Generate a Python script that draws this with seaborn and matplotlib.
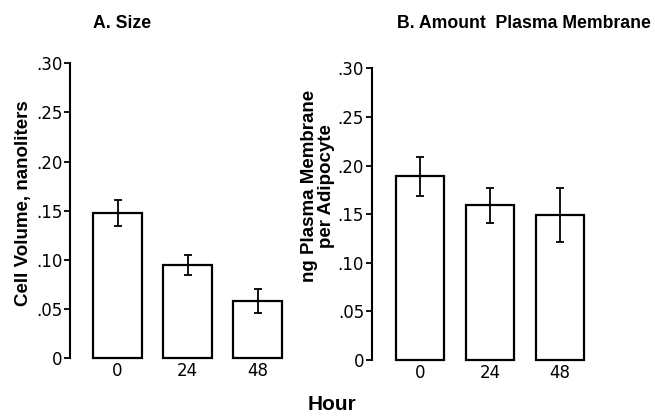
import matplotlib
matplotlib.use("Agg")
import matplotlib.pyplot as plt
import seaborn as sns
import pandas as pd
import numpy as np

hours = ["0", "24", "48"]
size_vals = [0.148, 0.095, 0.058]
size_err = [0.013, 0.010, 0.012]
pm_vals = [0.189, 0.159, 0.149]
pm_err = [0.020, 0.018, 0.028]
yticks = [0, 0.05, 0.10, 0.15, 0.20, 0.25, 0.30]
ytick_labels = ["0", ".05", ".10", ".15", ".20", ".25", ".30"]

sns.set_style("ticks")
plt.rcParams['font.family'] = ['DejaVu Sans']
for k in ["text.color", "axes.labelcolor", "xtick.color", "ytick.color", "axes.edgecolor"]:
    plt.rcParams[k] = "black"

W, H = 655, 416
fig = plt.figure(figsize=(W / 100, H / 100), dpi=100)

def px_axes(left, right, top, bottom):
    return fig.add_axes([left / W, 1 - bottom / H, (right - left) / W, (bottom - top) / H])

axA = px_axes(70, 299.5, 63.3, 358.3)
axB = px_axes(371.7, 601.4, 68.3, 360.0)

for ax, vals, errs, xl in [(axA, size_vals, size_err, -0.68), (axB, pm_vals, pm_err, -0.70)]:
    df = pd.DataFrame({"hour": hours, "val": vals})
    sns.barplot(data=df, x="hour", y="val", order=hours, color="white",
                edgecolor="black", linewidth=1.6, width=0.69, ax=ax, saturation=1)
    for p in ax.patches:
        p.set_clip_on(False)
    pos = np.arange(len(hours))
    ax.errorbar(pos, vals, yerr=errs, fmt="none", ecolor="black",
                elinewidth=1.3, capsize=3, capthick=1.3, clip_on=False)
    ax.set_xlim(xl, 2.6)
    ax.set_ylim(0, 0.30)
    ax.set_yticks(yticks)
    ax.set_yticklabels(ytick_labels)
    ax.set_xlabel("")
    ax.set_ylabel("")
    for s in ["top", "right", "bottom"]:
        ax.spines[s].set_visible(False)
    ax.spines["left"].set_linewidth(1.5)
    ax.spines["left"].set_color("black")
    ax.tick_params(axis="y", length=4.5, width=1.3, pad=1, labelsize=12, direction="out",
                   color="black", labelcolor="black")
    ax.tick_params(axis="x", length=0, pad=3, labelsize=12, labelcolor="black")
    ax.patch.set_alpha(0)

bold = dict(family=["Liberation Sans", "DejaVu Sans"], fontweight="bold", color="black")
fig.text(93 / W, 1 - 23 / H, "A. Size", ha="left", va="center", fontsize=12.7, **bold)
fig.text(397 / W, 1 - 23 / H, "B. Amount  Plasma Membrane", ha="left", va="center", fontsize=12.7, **bold)
fig.text(24 / W, 1 - 203 / H, "Cell Volume, nanoliters", rotation=90, ha="center", va="center",
         fontsize=13.5, **bold)
fig.text(318 / W, 1 - 186 / H, "ng Plasma Membrane\nper Adipocyte", rotation=90, ha="center",
         va="center", fontsize=13.5, linespacing=1.05, multialignment="center", **bold)
fig.text(332 / W, 1 - 404 / H, "Hour", ha="center", va="center", fontsize=15, **bold)

fig.savefig("out.png", dpi=100)
